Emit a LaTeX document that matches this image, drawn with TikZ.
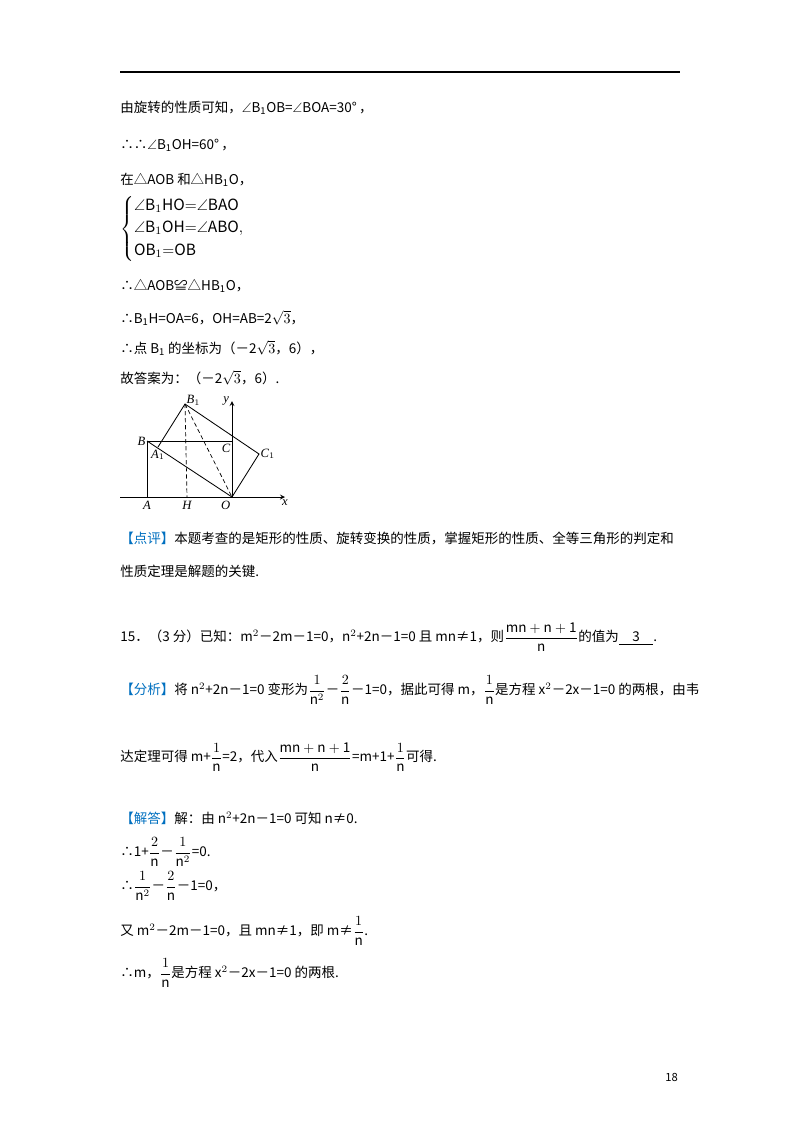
\documentclass[tikz,border=0pt]{standalone}
\usepackage{amsmath,amssymb}
\usepackage{fontspec}
\setmainfont{Noto Sans CJK SC}
\newfontfamily\figfont{Liberation Serif}
\usepackage{tikz}
\usetikzlibrary{calc,positioning}
\definecolor{tagblue}{RGB}{0,112,192}
\newcommand{\remtag}[1]{\textcolor{tagblue}{【#1】}}

\begin{document}
\begin{tikzpicture}[x=0.025cm,y=-0.025cm,
    txt/.style={anchor=west,inner sep=0pt,font=\fontsize{9.6}{11}\selectfont},
    lbl/.style={font=\fontsize{9}{10}\selectfont\figfont\itshape,inner sep=1pt},
    edge/.style={line width=0.6pt},
    dashline/.style={line width=0.5pt,densely dashed}]

    \useasboundingbox[fill=white] (0,0) rectangle (800,1132);
    \draw[line width=0.8pt] (120,72) -- (680,72);

    % solution text
    \node[txt] (l1) at (120,108) {由旋转的性质可知，$\angle$B\textsubscript{1}OB=$\angle$BOA=30°\,，};
    \node[txt] (l2) at (120,145) {∴∴$\angle$B\textsubscript{1}OH=60°\,，};
    \node[txt] (l3) at (120,180) {在△AOB 和△HB\textsubscript{1}O，};
    \node[txt,font=\fontsize{11}{13}\selectfont] (l4) at (120,229) {$\left\{\begin{array}{@{}l@{}}\angle\mathrm{B}_1\mathrm{HO}{=}\angle\mathrm{BAO}\\[3pt]\angle\mathrm{B}_1\mathrm{OH}{=}\angle\mathrm{ABO},\\[3pt]\mathrm{OB}_1{=}\mathrm{OB}\end{array}\right.$};
    \node[txt] (l5) at (120,286) {∴△AOB≌△HB\textsubscript{1}O，};
    \node[txt] (l6) at (120,318) {∴B\textsubscript{1}H=OA=6，OH=AB=2$\sqrt{3}$，};
    \node[txt] (l7) at (120,348) {∴点 B\textsubscript{1} 的坐标为（－2$\sqrt{3}$，6），};
    \node[txt] (l8) at (120,378) {故答案为：（－2$\sqrt{3}$，6）.};

    % figure
    \coordinate (A) at (147,497);
    \coordinate (O) at (232,497);
    \coordinate (B) at (147,441);
    \coordinate (C) at (232,441);
    \coordinate (H) at (187,497);
    \coordinate (B1) at (185,404);
    \coordinate (A1) at (158,447);
    \coordinate (C1) at (259,454);
    \coordinate (xl) at (120,497);
    \coordinate (xr) at (285,497);
    \coordinate (yt) at (232,401);

    \draw[edge,-stealth] (xl) -- (xr);
    \draw[edge,-stealth] (O) -- (yt);
    \draw[edge] (A) -- (B) -- (C) -- (O);
    \draw[edge] (B) -- (O);
    \draw[edge] (A1) -- (B1) -- (C1) -- (O);
    \draw[dashline] (B1) -- (H);
    \draw[dashline] (B1) -- (O);

    \node[lbl,above right=-2pt and 0pt] at (B1) {B$_1$};
    \node[lbl,left] at (B) {B};
    \node[lbl,below=1pt] at (A1) {A$_1$};
    \node[lbl,below left=1pt and 0pt] at (C) {C};
    \node[lbl,right] at (C1) {C$_1$};
    \node[lbl,below=2pt] at (A) {A};
    \node[lbl,below=2pt] at (H) {H};
    \node[lbl,below left=2pt and 0pt] at (O) {O};
    \node[lbl,below=1pt] at (xr) {x};
    \node[lbl,left=1pt] at (yt) {y};

    % comment and problem 15
    \node[txt] (p1) at (120,538) {\remtag{点评}本题考查的是矩形的性质、旋转变换的性质，掌握矩形的性质、全等三角形的判定和};
    \node[txt] (p2) at (120,571) {性质定理是解题的关键.};
    \node[txt] (q15) at (120,637) {15．（3 分）已知：m$^2$－2m－1=0，n$^2$+2n－1=0 且 mn≠1，则$\dfrac{\mathrm{mn+n+1}}{\mathrm{n}}$的值为\underline{\quad 3\quad}.};
    \node[txt] (a1) at (120,690) {\remtag{分析}将 n$^2$+2n－1=0 变形为$\dfrac{1}{\mathrm{n}^2}$－$\dfrac{2}{\mathrm{n}}$－1=0，据此可得 m，$\dfrac{1}{\mathrm{n}}$是方程 x$^2$－2x－1=0 的两根，由韦};
    \node[txt] (a2) at (120,757) {达定理可得 m+$\dfrac{1}{\mathrm{n}}$=2，代入$\dfrac{\mathrm{mn+n+1}}{\mathrm{n}}$=m+1+$\dfrac{1}{\mathrm{n}}$可得.};
    \node[txt] (s1) at (120,818) {\remtag{解答}解：由 n$^2$+2n－1=0 可知 n≠0.};
    \node[txt] (s2) at (120,852) {∴1+$\dfrac{2}{\mathrm{n}}$－$\dfrac{1}{\mathrm{n}^2}$=0.};
    \node[txt] (s3) at (120,886) {∴$\dfrac{1}{\mathrm{n}^2}$－$\dfrac{2}{\mathrm{n}}$－1=0，};
    \node[txt] (s4) at (120,931) {又 m$^2$－2m－1=0，且 mn≠1，即 m≠$\dfrac{1}{\mathrm{n}}$.};
    \node[txt] (s5) at (120,973) {∴m，$\dfrac{1}{\mathrm{n}}$是方程 x$^2$－2x－1=0 的两根.};

    \node[txt,font=\fontsize{8}{9}\selectfont] (pg) at (665,1077) {18};

\end{tikzpicture}
\end{document}
